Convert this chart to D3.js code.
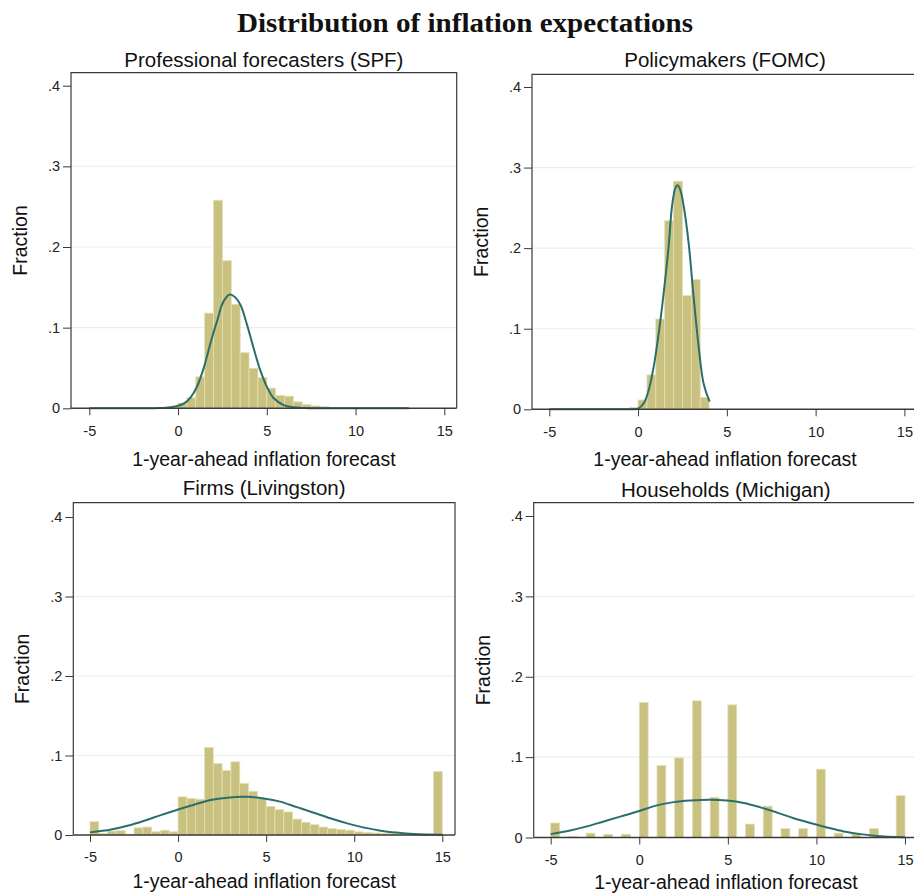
<!DOCTYPE html>
<html><head><meta charset="utf-8">
<script src="https://cdn.jsdelivr.net/npm/d3@7"></script>
<style>body{margin:0;background:#fff}svg{display:block}</style>
</head><body>
<svg id="chart" width="914" height="893"></svg>
<script>
// ---------- data ----------
const chartTitle = "Distribution of inflation expectations";
const panelTitles = ["Professional forecasters (SPF)", "Policymakers (FOMC)", "Firms (Livingston)", "Households (Michigan)"];
const xAxisTitle = "1-year-ahead inflation forecast";
const yAxisTitle = "Fraction";
const xTicks = [-5, 0, 5, 10, 15];
const xTickLabels = ["-5", "0", "5", "10", "15"];
const yTicks = [0, 0.1, 0.2, 0.3, 0.4];
const yTickLabels = ["0", ".1", ".2", ".3", ".4"];
const gridTicks = [0.1, 0.2, 0.3];
const binWidth = 0.5;

// SPF histogram (bin start, fraction)
const spfBins = [-1, -0.5, 0, 0.5, 1, 1.5, 2, 2.5, 3, 3.5, 4, 4.5, 5, 5.5, 6, 6.5, 7, 7.5, 8, 8.5, 9, 9.5];
const spfFrac = [0.0005, 0.0015, 0.0065, 0.013, 0.039, 0.118, 0.258, 0.183, 0.129, 0.069, 0.0496, 0.038, 0.025, 0.016, 0.015, 0.008, 0.0045, 0.003, 0.002, 0.0012, 0.0008, 0.0005];
const spfCurveX = [-5, -2, -1, -0.4, 0.34, 0.71, 1.09, 1.46, 1.84, 2.21, 2.55, 2.92, 3.2, 3.52, 3.9, 4.27, 4.64, 5.02, 5.39, 5.95, 6.52, 7.1, 8, 13];
const spfCurveY = [0, 0, 0.0004, 0.0012, 0.006, 0.0136, 0.028, 0.051, 0.082, 0.109, 0.132, 0.141, 0.138, 0.128, 0.1025, 0.0736, 0.0467, 0.026, 0.0124, 0.004, 0.0012, 0.0003, 0, 0];

// FOMC histogram
const fomcBins = [-0.5, 0, 0.5, 1, 1.5, 2, 2.5, 3, 3.5];
const fomcFrac = [0.0025, 0.0116, 0.0427, 0.112, 0.234, 0.283, 0.141, 0.161, 0.0145];
const fomcCurveX = [-5, -1, -0.3, 0, 0.32, 0.6, 0.88, 1.16, 1.44, 1.72, 1.91, 2.10, 2.23, 2.38, 2.57, 2.85, 3.13, 3.41, 3.69, 4.03];
const fomcCurveY = [0, 0, 0.0002, 0.0008, 0.0075, 0.024, 0.053, 0.094, 0.144, 0.202, 0.2517, 0.2745, 0.278, 0.272, 0.252, 0.206, 0.139, 0.078, 0.032, 0.0095];

// Livingston histogram
const livBins = [-5, -4.5, -4, -3.5, -3, -2.5, -2, -1.5, -1, -0.5, 0, 0.5, 1, 1.5, 2, 2.5, 3, 3.5, 4, 4.5, 5, 5.5, 6, 6.5, 7, 7.5, 8, 8.5, 9, 9.5, 10, 10.5, 11, 11.5, 12, 12.5, 13, 13.5, 14, 14.5];
const livFrac = [0.0167, 0.002, 0.005, 0.0054, 0.001, 0.009, 0.010, 0.004, 0.006, 0.004, 0.048, 0.046, 0.045, 0.110, 0.090, 0.081, 0.092, 0.065, 0.055, 0.046, 0.036, 0.032, 0.029, 0.020, 0.016, 0.013, 0.010, 0.008, 0.007, 0.006, 0.004, 0.003, 0.0025, 0.002, 0.0017, 0.0012, 0.001, 0.0008, 0.0008, 0.080];
const livCurveX = [-5, -3.8, -2.87, -1.92, -0.98, 0, 0.9, 1.85, 2.8, 3.9, 4.87, 5.8, 6.75, 7.7, 8.64, 9.6, 10.5, 11.5, 12.4, 13.4, 15];
const livCurveY = [0.0033, 0.007, 0.0117, 0.018, 0.025, 0.032, 0.038, 0.044, 0.047, 0.048, 0.046, 0.042, 0.035, 0.028, 0.021, 0.0146, 0.0096, 0.0054, 0.003, 0.0012, 0.0003];

// Michigan histogram
const micBins = [-5, -4, -3, -2, -1, 0, 1, 2, 3, 4, 5, 6, 7, 8, 9, 10, 11, 12, 13, 14.5];
const micFrac = [0.018, 0.001, 0.0054, 0.004, 0.004, 0.168, 0.0896, 0.099, 0.170, 0.050, 0.165, 0.0167, 0.039, 0.011, 0.011, 0.085, 0.0054, 0.004, 0.011, 0.052];
const micCurveX = [-5, -3.9, -2.96, -2.0, -1.07, 0, 1.0, 1.94, 2.88, 4.0, 4.95, 5.9, 6.84, 7.78, 8.72, 9.66, 10.6, 11.54, 12.5, 13.4, 15];
const micCurveY = [0.0042, 0.0088, 0.0138, 0.020, 0.026, 0.033, 0.040, 0.044, 0.046, 0.047, 0.046, 0.043, 0.0375, 0.031, 0.024, 0.018, 0.0125, 0.0075, 0.0042, 0.002, 0.0004];

// ---------- layout (positions only) ----------
const layouts = [
  {left: 71, right: 456.7, top: 72.7, xa: 89.3, xb: 444.3, y0: 408.3, y4: 85.7, titleY: 67, xTitleY: 466},
  {left: 532, right: 918, top: 74.3, xa: 549.3, xb: 904.4, y0: 409.3, y4: 87, titleY: 67, xTitleY: 466},
  {left: 73.3, right: 455, top: 502.7, xa: 90, xb: 442.3, y0: 835, y4: 517, titleY: 495, xTitleY: 888},
  {left: 533.7, right: 918, top: 502.7, xa: 550.7, xb: 905, y0: 837.5, y4: 516, titleY: 497, xTitleY: 889}
];
const panels = [
  {bins: spfBins, frac: spfFrac, cx: spfCurveX, cy: spfCurveY},
  {bins: fomcBins, frac: fomcFrac, cx: fomcCurveX, cy: fomcCurveY},
  {bins: livBins, frac: livFrac, cx: livCurveX, cy: livCurveY},
  {bins: micBins, frac: micFrac, cx: micCurveX, cy: micCurveY}
];

const barFill = "#c9c17f", barEdge = "#e4dfb4", curveColor = "#2a6f6b", axisColor = "#3a3a3a";
const sans = "'Liberation Sans', Arial, sans-serif";

const svg = d3.select("#chart");
svg.append("rect").attr("width", 914).attr("height", 893).attr("fill", "#fff");

svg.append("text").attr("x", 465).attr("y", 32).attr("text-anchor", "middle")
  .attr("font-family", "'Liberation Serif', 'Times New Roman', serif").attr("font-weight", "bold")
  .attr("font-size", 27).attr("textLength", 456).attr("lengthAdjust", "spacingAndGlyphs")
  .attr("fill", "#111").text(chartTitle);

panels.forEach((p, i) => {
  const L = layouts[i];
  const x = d3.scaleLinear().domain([-5, 15]).range([L.xa, L.xb]);
  const y = d3.scaleLinear().domain([0, 0.4]).range([L.y0, L.y4]);
  const g = svg.append("g");

  // grid
  g.selectAll(".grid").data(gridTicks).join("line")
    .attr("x1", L.left).attr("x2", L.right)
    .attr("y1", d => y(d)).attr("y2", d => y(d))
    .attr("stroke", "#e6eff1").attr("stroke-width", 1.2);

  // bars
  const bars = p.bins.map((b, k) => ({b, f: p.frac[k]}));
  g.selectAll(".bar").data(bars).join("rect")
    .attr("x", d => x(d.b)).attr("width", d => x(d.b + binWidth) - x(d.b))
    .attr("y", d => y(d.f)).attr("height", d => y(0) - y(d.f))
    .attr("fill", barFill).attr("stroke", barEdge).attr("stroke-width", 0.8);

  // normal curve
  const pts = p.cx.map((v, k) => [v, p.cy[k]]);
  g.append("path").datum(pts)
    .attr("d", d3.line().x(d => x(d[0])).y(d => y(d[1])).curve(d3.curveCatmullRom.alpha(0.5)))
    .attr("fill", "none").attr("stroke", curveColor).attr("stroke-width", 2);

  // box
  g.append("path")
    .attr("d", `M${L.left},${L.y0}V${L.top}H${L.right}V${L.y0}`)
    .attr("fill", "none").attr("stroke", axisColor).attr("stroke-width", 1.2);
  g.append("line").attr("x1", L.left).attr("x2", L.right).attr("y1", L.y0).attr("y2", L.y0)
    .attr("stroke", axisColor).attr("stroke-width", 1.4);

  // axes
  const xAxis = d3.axisBottom(x).tickValues(xTicks).tickSize(7).tickSizeOuter(0)
    .tickFormat((d, k) => xTickLabels[k]).tickPadding(10);
  const gx = g.append("g").attr("transform", `translate(0,${L.y0})`).call(xAxis);
  gx.select(".domain").remove();
  gx.selectAll("line").attr("stroke", axisColor);
  gx.selectAll("text").attr("font-family", sans).attr("font-size", 14.5).attr("fill", "#222");

  const yAxis = d3.axisLeft(y).tickValues(yTicks).tickSize(8).tickSizeOuter(0)
    .tickFormat((d, k) => yTickLabels[k]).tickPadding(3);
  const gy = g.append("g").attr("transform", `translate(${L.left},0)`).call(yAxis);
  gy.select(".domain").remove();
  gy.selectAll("line").attr("stroke", axisColor);
  gy.selectAll("text").attr("font-family", sans).attr("font-size", 14.5).attr("fill", "#222");

  // titles
  const cx = (L.left + L.right) / 2;
  g.append("text").attr("x", cx).attr("y", L.titleY).attr("text-anchor", "middle")
    .attr("font-family", sans).attr("font-size", 20.5).attr("fill", "#111").text(panelTitles[i]);
  g.append("text").attr("x", cx).attr("y", L.xTitleY).attr("text-anchor", "middle")
    .attr("font-family", sans).attr("font-size", 19.5).attr("fill", "#111").text(xAxisTitle);
  const ym = (L.top + L.y0) / 2;
  g.append("text").attr("transform", `translate(${L.left - 44},${ym}) rotate(-90)`)
    .attr("text-anchor", "middle").attr("font-family", sans).attr("font-size", 19.5)
    .attr("fill", "#111").text(yAxisTitle);
});
</script>
</body></html>
